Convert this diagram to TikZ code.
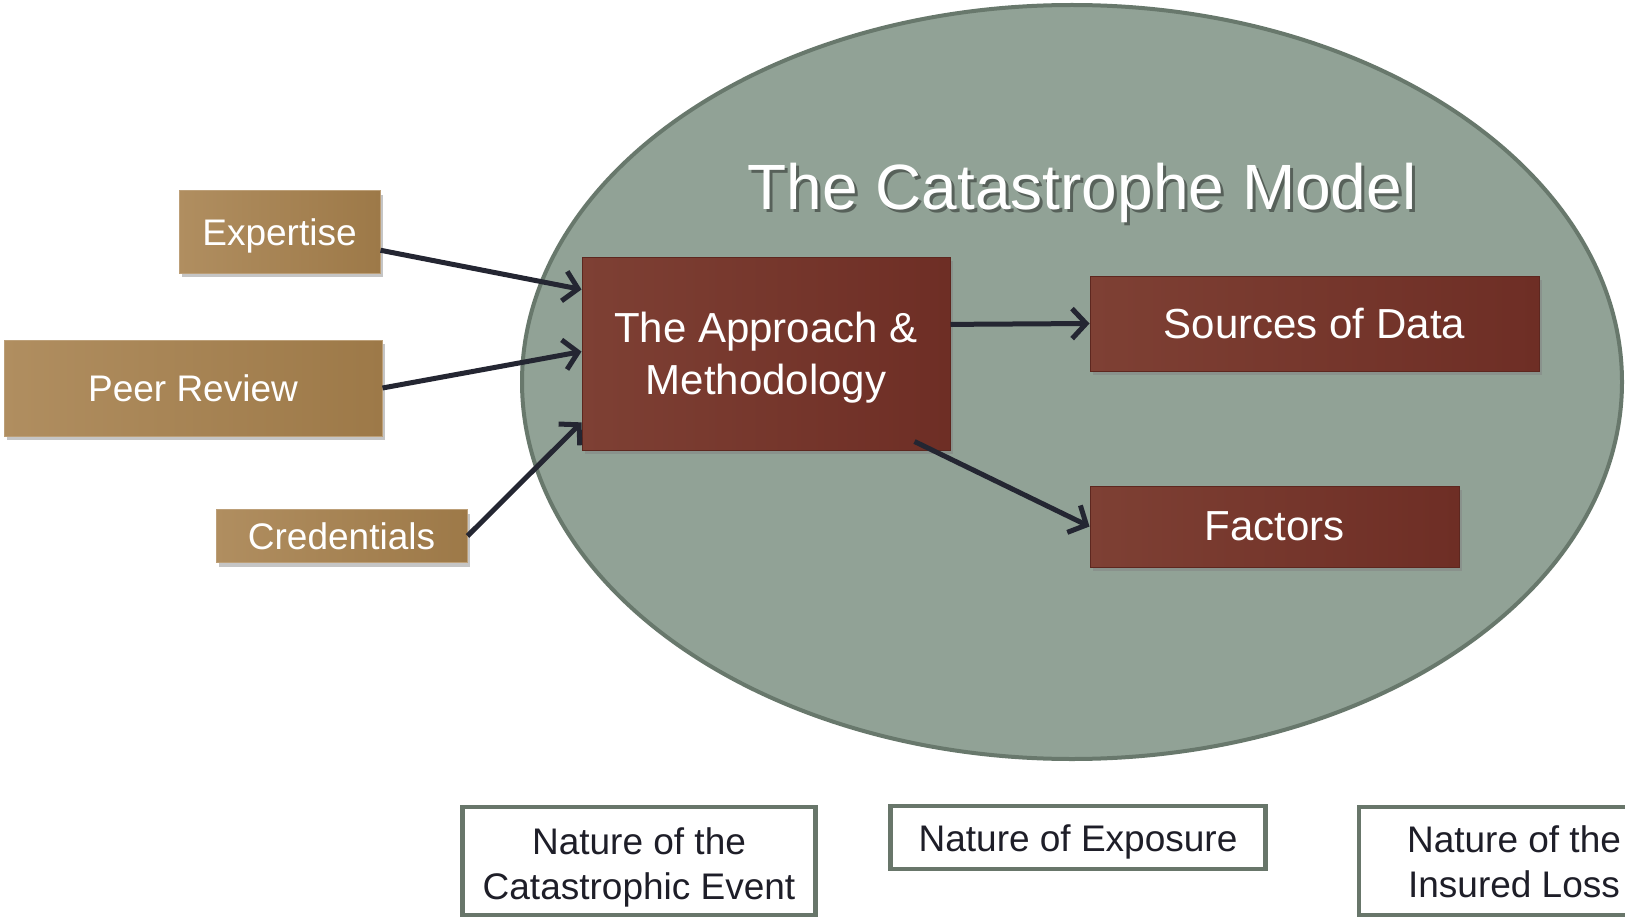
\documentclass[tikz,border=0pt]{standalone}
\usepackage{fontspec}
\setmainfont{Liberation Sans}
\usetikzlibrary{arrows.meta,shadows,calc}

\definecolor{ovalfill}{RGB}{145,162,150}
\definecolor{ovaledge}{RGB}{104,120,108}
\definecolor{brownA}{RGB}{176,142,96}
\definecolor{brownB}{RGB}{157,121,72}
\definecolor{redA}{RGB}{126,64,52}
\definecolor{redB}{RGB}{110,46,37}
\definecolor{arrowc}{RGB}{36,38,50}
\definecolor{framec}{RGB}{104,118,106}
\definecolor{inkc}{RGB}{30,30,40}

% invisible strut that pads the first text line from above
\newcommand\toppad[1]{\rule{0pt}{#1}}

\tikzset{
  inbox/.style={left color=brownA, right color=brownB, draw=brownA!85!white,
    line width=1pt, inner sep=0pt, text=white,
    drop shadow={shadow xshift=3pt, shadow yshift=-4pt, opacity=0.45},
    font=\fontsize{37}{44}\selectfont},
  redbox/.style={left color=redA, right color=redB, draw=redB!85!black,
    line width=1pt, inner sep=0pt, text=white, align=center,
    drop shadow={shadow xshift=3pt, shadow yshift=-4pt, opacity=0.45},
    font=\fontsize{42}{52}\selectfont},
  factorbox/.style={draw=framec, line width=4.5pt, fill=white, inner sep=0pt,
    text=inkc, align=center, font=\fontsize{37}{45}\selectfont},
  arrowline/.style={draw=arrowc, line width=5pt,
    -{Straight Barb[length=14pt,width=30pt]}},
  titletext/.style={font=\fontsize{64}{72}\selectfont, anchor=base}
}

\begin{document}
\begin{tikzpicture}[x=1pt,y=-1pt]
  \clip (0,0) rectangle (1625,920);
  \fill[white] (0,0) rectangle (1625,920);

  % the model oval
  \draw[fill=ovalfill, draw=ovaledge, line width=4pt]
    (1072,382) ellipse [x radius=550pt, y radius=377pt];

  % title with soft shadow
  \node[titletext, text=black, opacity=0.4] at (1085,213) {The Catastrophe Model};
  \node[titletext, text=white] (title) at (1082,210) {The Catastrophe Model};

  % inputs
  \node[inbox, minimum width=201pt, minimum height=82pt] (exp) at (279.5,232) {\toppad{35pt}Expertise};
  \node[inbox, minimum width=378pt, minimum height=96pt] (peer) at (193,388) {Peer Review};
  \node[inbox, minimum width=251pt, minimum height=53pt] (cred) at (341.5,536) {Credentials};

  % model components
  \node[redbox, minimum width=368pt, minimum height=193pt] (app) at (766,353.5) {\toppad{39pt}The Approach \&\\Methodology};
  \node[redbox, minimum width=449pt, minimum height=95pt] (src) at (1314.5,323.5) {Sources of Data};
  \node[redbox, minimum width=369pt, minimum height=81pt] (fac) at (1274.5,526.5) {Factors};

  % connectors
  \draw[arrowline] ($(exp.north east)!0.72!(exp.south east)$) -- ($(app.north west)!0.17!(app.south west)$);
  \draw[arrowline] (peer.east) -- ($(app.north west)!0.49!(app.south west)$);
  \draw[arrowline] (cred.east) -- ($(app.north west)!0.855!(app.south west)$);
  \draw[arrowline] ($(app.north east)!0.35!(app.south east)$) -- (src.west);
  \draw[arrowline] ($(app.south east)+(-36,-9)$) -- (fac.west);

  % factors below the oval
  \node[factorbox, minimum width=353pt, minimum height=108pt] (ev) at (639,861) {\toppad{39pt}Nature of the\\Catastrophic Event};
  \node[factorbox, minimum width=375pt, minimum height=63pt] (expo) at (1078,837.5) {\toppad{35pt}Nature of Exposure};
  \node[factorbox, minimum width=310pt, minimum height=108pt] (loss) at (1514,861) {\toppad{29pt}Nature of the\\Insured Loss};
\end{tikzpicture}
\end{document}
